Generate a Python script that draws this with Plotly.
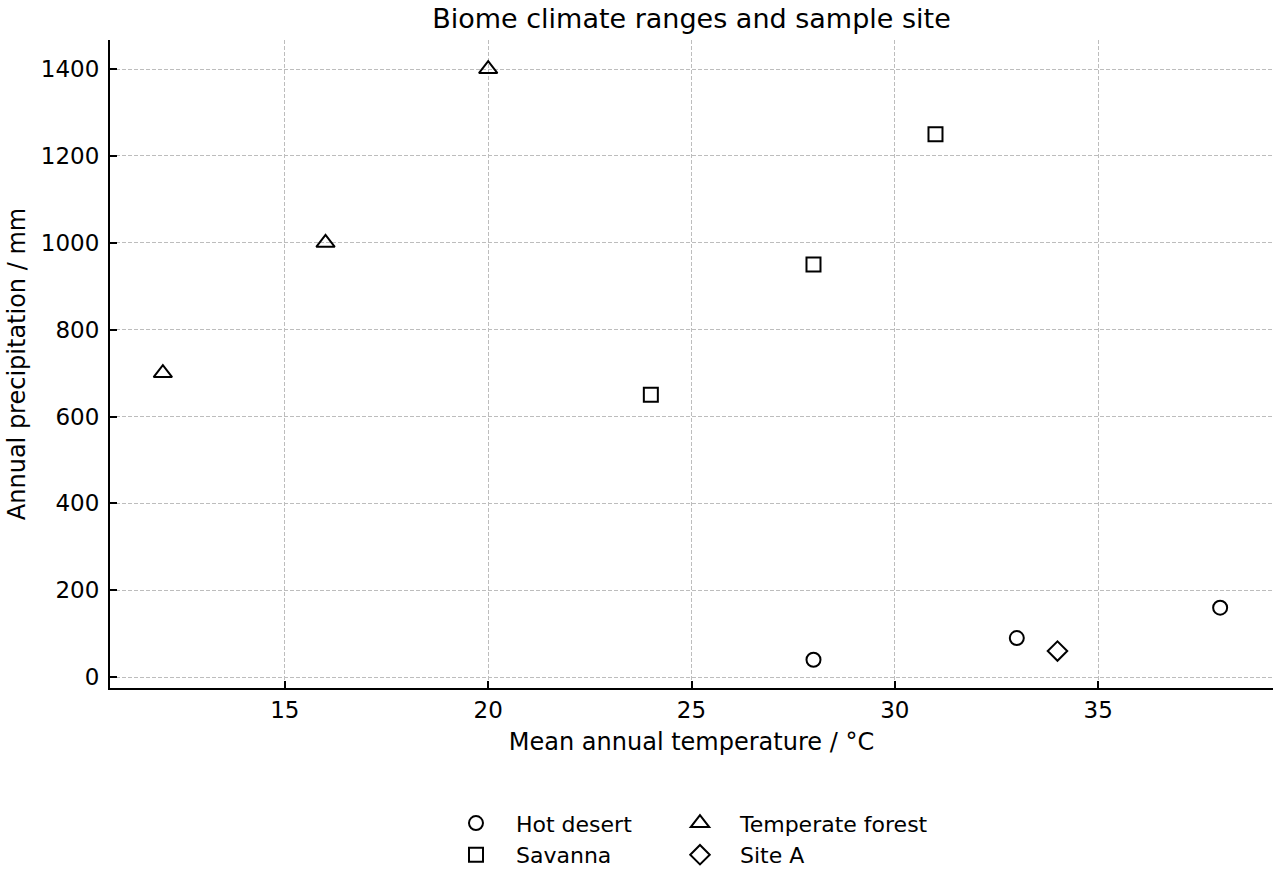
import plotly.graph_objects as go

desert_t = [28, 33, 38]
desert_p = [40, 90, 160]
savanna_t = [24, 28, 31]
savanna_p = [650, 950, 1250]
forest_t = [12, 16, 20]
forest_p = [700, 1000, 1400]
site_t = [34]
site_p = [60]

FONT = "DejaVu Sans"


def mk(symbol, size=14):
    return dict(symbol=symbol, color="black", size=size, line=dict(color="black", width=2))


fig = go.Figure()
fig.add_trace(go.Scatter(x=desert_t, y=desert_p, mode="markers", name="Hot desert",
                         marker=mk("circle-open", 14), legend="legend"))
fig.add_trace(go.Scatter(x=savanna_t, y=savanna_p, mode="markers", name="Savanna",
                         marker=mk("square-open", 14), legend="legend"))
fig.add_trace(go.Scatter(x=forest_t, y=forest_p, mode="markers", name="Temperate forest",
                         marker=mk("triangle-up-open", 16), legend="legend2"))
fig.add_trace(go.Scatter(x=site_t, y=site_p, mode="markers", name="Site A",
                         marker=mk("diamond-open", 15), legend="legend2"))

axis_common = dict(showline=True, linecolor="black", linewidth=2, ticks="inside", ticklen=7,
                   tickwidth=2, tickcolor="black", showgrid=True, gridcolor="#bdbdbd",
                   griddash="4px,2px", gridwidth=1, zeroline=False, mirror=False,
                   automargin=False,
                   tickfont=dict(family=FONT, size=23, color="black"))

fig.update_layout(
    width=1280, height=880,
    paper_bgcolor="white", plot_bgcolor="white",
    margin=dict(l=110, r=7, t=40, b=192),
    title=dict(text="Biome climate ranges and sample site", x=0.5, xanchor="center",
               xref="paper", y=1 - 19 / 880, yanchor="middle",
               font=dict(family=FONT, size=27, color="black")),
    xaxis=dict(range=[10.7, 39.3], tickvals=[15, 20, 25, 30, 35],
               title=dict(text="Mean annual temperature / °C", font=dict(family=FONT, size=24, color="black"), standoff=12),
               **axis_common),
    yaxis=dict(range=[-25, 1467], tickvals=[0, 200, 400, 600, 800, 1000, 1200, 1400],
               ticklabelstandoff=4,
               title=dict(text="Annual precipitation / mm", font=dict(family=FONT, size=24, color="black"), standoff=8),
               **axis_common),
    legend=dict(x=0.2803, xanchor="left", y=0.0883, yref="container", yanchor="top",
                orientation="v", itemwidth=70,
                font=dict(family=FONT, size=22, color="black"), bgcolor="rgba(0,0,0,0)"),
    legend2=dict(x=0.4729, xanchor="left", y=0.0883, yref="container", yanchor="top",
                 orientation="v", itemwidth=70,
                 font=dict(family=FONT, size=22, color="black"), bgcolor="rgba(0,0,0,0)"),
    showlegend=True,
)

fig.write_html("out.html")
